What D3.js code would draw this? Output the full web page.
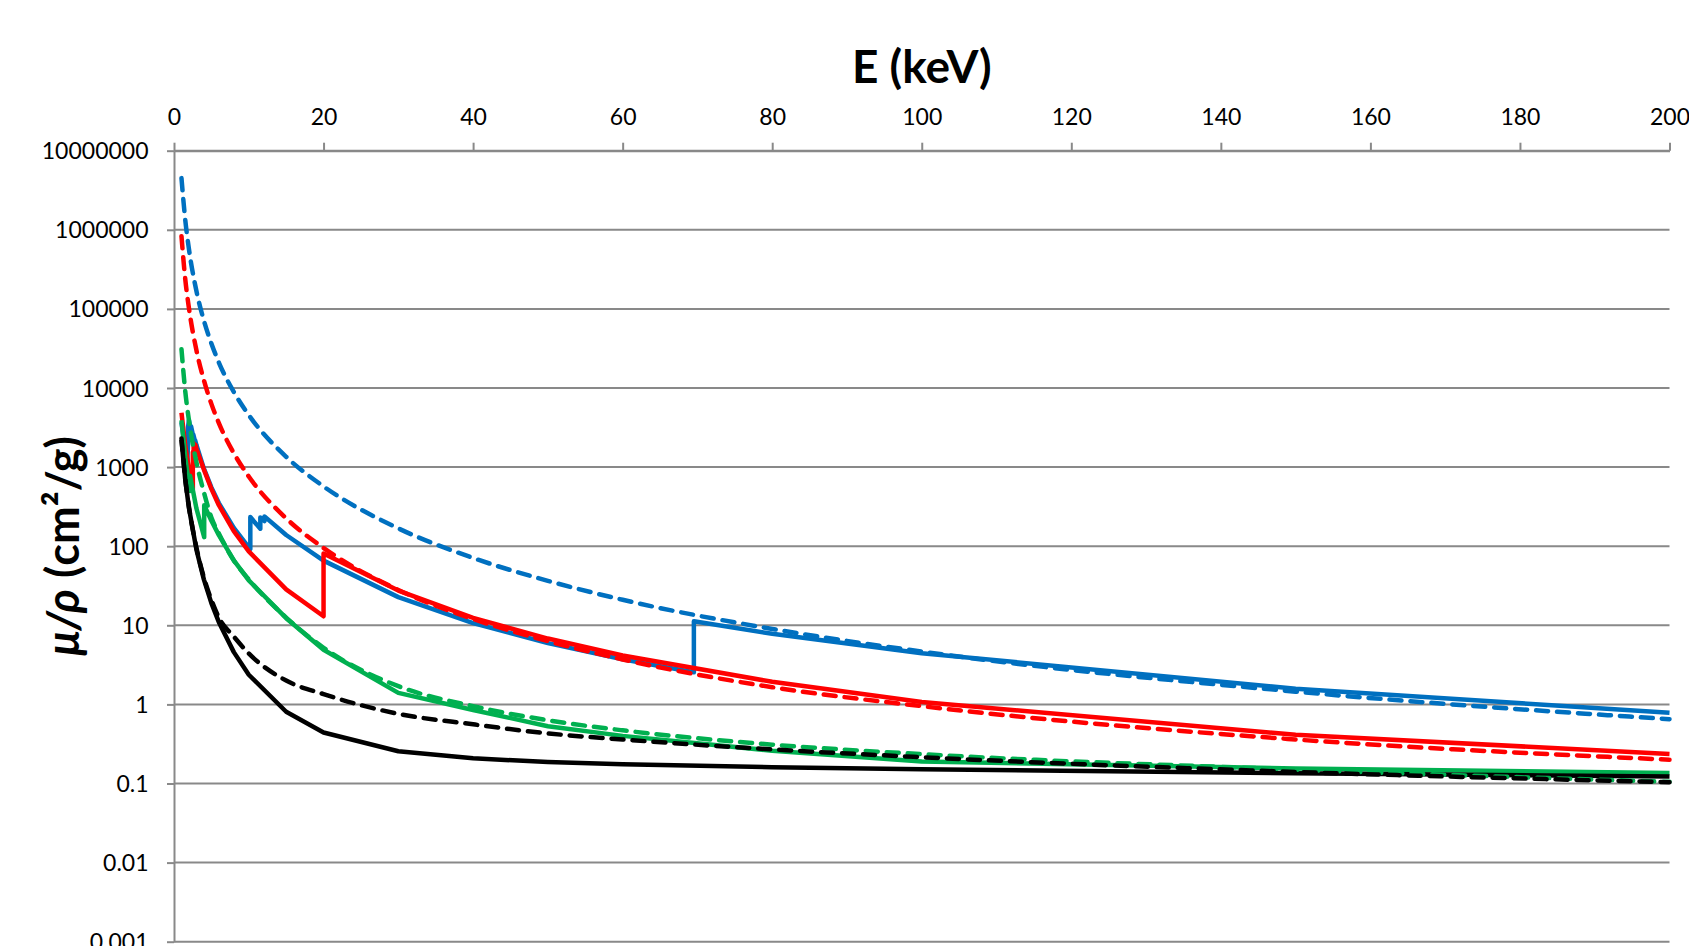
<!DOCTYPE html>
<html>
<head>
<meta charset="utf-8">
<script src="https://cdn.jsdelivr.net/npm/d3@7"></script>
<style>
  body { margin: 0; background: #fff; }
  svg text { font-family: Lato, "Open Sans", sans-serif; }
  .axis text { font-size: 23px; fill: #000; }
  .axis path, .axis line { stroke: #898989; stroke-width: 2; }
  .grid line { stroke: #898989; stroke-width: 2; }
</style>
</head>
<body>
<script>
// energies (keV) and mass attenuation values (cm2/g)
const xTicks = [0, 20, 40, 60, 80, 100, 120, 140, 160, 180, 200];
const yTicks = [0.001, 0.01, 0.1, 1, 10, 100, 1000, 10000, 100000, 1000000, 10000000];
const yTickLabels = ["0.001", "0.01", "0.1", "1", "10", "100", "1000", "10000", "100000", "1000000", "10000000"];

// solid curves (with absorption edges)
const blueE = [1, 1.5, 1.809, 1.809, 1.872, 1.872, 2, 2.281, 2.281, 2.575, 2.575, 2.82, 2.82, 3, 4, 5, 6, 8, 10,
  10.207, 10.207, 11.544, 11.544, 12.1, 12.1, 15, 20, 30, 40, 50, 60, 69.525, 69.525, 80, 100, 150, 200];
const blueV = [3683, 1643, 1108, 1327, 1911, 3170, 3922, 2828, 3279, 2445, 2599, 2104, 2194, 1902, 956, 553, 351, 170.5, 96.9,
  92.0, 233.4, 166.3, 231.2, 208, 238, 138.5, 65.7, 22.7, 10.67, 5.95, 3.71, 2.55, 11.23, 7.81, 4.44, 1.58, 0.784];

const redE = [1, 1.5, 2, 2.52, 2.52, 2.625, 2.625, 2.866, 2.866, 3, 4, 5, 6, 8, 10, 15, 20, 20, 30, 40, 50, 60, 80, 100, 150, 200];
const redV = [4864, 1896, 937, 516, 1550, 1484, 2003, 1667, 1918, 1710, 930, 530, 330, 155, 86, 28.5, 13.0, 81, 27.5, 12.4,
  6.8, 4.15, 1.93, 1.07, 0.413, 0.236];

const greenE = [1, 1.5, 2, 2.145, 2.145, 3, 4.038, 4.038, 5, 6, 8, 10, 15, 20, 30, 40, 50, 60, 80, 100, 150, 200];
const greenV = [3900, 1350, 600, 500, 780, 300, 130, 330, 210, 138, 66, 37, 12.3, 4.9, 1.4, 0.85, 0.53, 0.40, 0.26, 0.19, 0.155, 0.136];

const blackE = [1, 1.5, 2, 3, 4, 5, 6, 8, 10, 15, 20, 30, 40, 50, 60, 80, 100, 150, 200];
const blackV = [2211, 700, 302.6, 90.3, 37.8, 19.1, 10.95, 4.58, 2.37, 0.807, 0.442, 0.256, 0.208, 0.187, 0.175, 0.161, 0.151, 0.135, 0.123];

// dashed curves (smooth approximations)
const dashE = [1, 1.5, 2, 3, 4, 5, 6, 8, 10, 15, 20, 30, 40, 50, 60, 80, 100, 150, 200];
const blueDashV = [4.5e6, 1.35e6, 5.7e5, 1.68e5, 7.1e4, 3.65e4, 2.1e4, 8900, 4550, 1350, 570, 168, 71, 36.5, 21, 9.0, 4.65, 1.45, 0.65];
const redDashV = [8.3e5, 2.4e5, 1.02e5, 3.0e4, 1.25e4, 6300, 3600, 1500, 760, 225, 95, 28, 12, 6.3, 3.7, 1.65, 0.95, 0.36, 0.20];
const greenDashV = [3.1e4, 9200, 3900, 1150, 480, 230, 145, 66, 38, 12.5, 5.2, 1.7, 0.95, 0.63, 0.47, 0.31, 0.235, 0.15, 0.105];
const blackDashV = [2300, 720, 315, 96, 40, 21, 12.5, 7.2, 4.4, 2.0, 1.35, 0.76, 0.56, 0.43, 0.36, 0.27, 0.215, 0.14, 0.104];

const W = 1689, H = 946;
const plotLeft = 174, plotRight = 1669.5, plotTop = 150.7, plotBottom = 941.7;

var svg = d3.select("body")
            .append("svg")
            .attr("width", W)
            .attr("height", H);

svg.append("rect").attr("width", W).attr("height", H).attr("fill", "#fff");

var x = d3.scaleLinear().domain([0, 200]).range([plotLeft, plotRight]);
var y = d3.scaleLog().domain([0.001, 10000000]).range([plotBottom, plotTop]);

// horizontal gridlines
svg.append("g")
   .attr("class", "grid")
   .selectAll("line")
   .data(yTicks)
   .enter().append("line")
   .attr("x1", plotLeft).attr("x2", plotRight)
   .attr("y1", d => y(d)).attr("y2", d => y(d));

var xAxisG = svg.append("g")
   .attr("class", "axis")
   .attr("transform", `translate(0,${plotTop})`)
   .call(d3.axisTop(x).tickValues(xTicks).tickSize(8).tickPadding(18).tickSizeOuter(0));
xAxisG.selectAll(".tick text").attr("dy", "0em");

var yAxisG = svg.append("g")
   .attr("class", "axis")
   .attr("transform", `translate(${plotLeft},0)`)
   .call(d3.axisLeft(y).tickValues(yTicks).tickSize(7).tickPadding(18.5).tickSizeOuter(0)
     .tickFormat((d, i) => yTickLabels[i]));
yAxisG.selectAll(".tick text").attr("dy", "0.35em");

const series = [
  { e: blueE, v: blueV, color: "#0070C0", dashed: false },
  { e: redE, v: redV, color: "#FF0000", dashed: false },
  { e: greenE, v: greenV, color: "#00B050", dashed: false },
  { e: blackE, v: blackV, color: "#000000", dashed: false },
  { e: dashE, v: blueDashV, color: "#0070C0", dashed: true },
  { e: dashE, v: redDashV, color: "#FF0000", dashed: true },
  { e: dashE, v: greenDashV, color: "#00B050", dashed: true },
  { e: dashE, v: blackDashV, color: "#000000", dashed: true }
];

var lineStraight = d3.line().x(d => x(d[0])).y(d => y(d[1]));
var lineSmooth = d3.line().x(d => x(d[0])).y(d => y(d[1])).curve(d3.curveMonotoneX);

series.forEach(s => {
  const pts = s.e.map((e, i) => [e, s.v[i]]);
  svg.append("path")
     .attr("d", s.dashed ? lineSmooth(pts) : lineStraight(pts))
     .attr("fill", "none")
     .attr("stroke", s.color)
     .attr("stroke-width", 4.5)
     .attr("stroke-linejoin", "round")
     .attr("stroke-linecap", s.dashed ? "round" : "butt")
     .attr("stroke-dasharray", s.dashed ? "12,9" : null);
});

svg.append("text")
   .attr("x", (plotLeft + plotRight) / 2)
   .attr("y", 83)
   .attr("text-anchor", "middle")
   .attr("font-size", "46px")
   .attr("font-weight", "bold")
   .text("E (keV)");

var ylab = svg.append("text")
   .attr("transform", "translate(79,546) rotate(-90)")
   .attr("text-anchor", "middle")
   .attr("font-size", "45px")
   .attr("font-weight", "bold");
ylab.append("tspan").attr("font-style", "italic").text("μ/ρ");
ylab.append("tspan").text(" (cm²/g)");
</script>
</body>
</html>
